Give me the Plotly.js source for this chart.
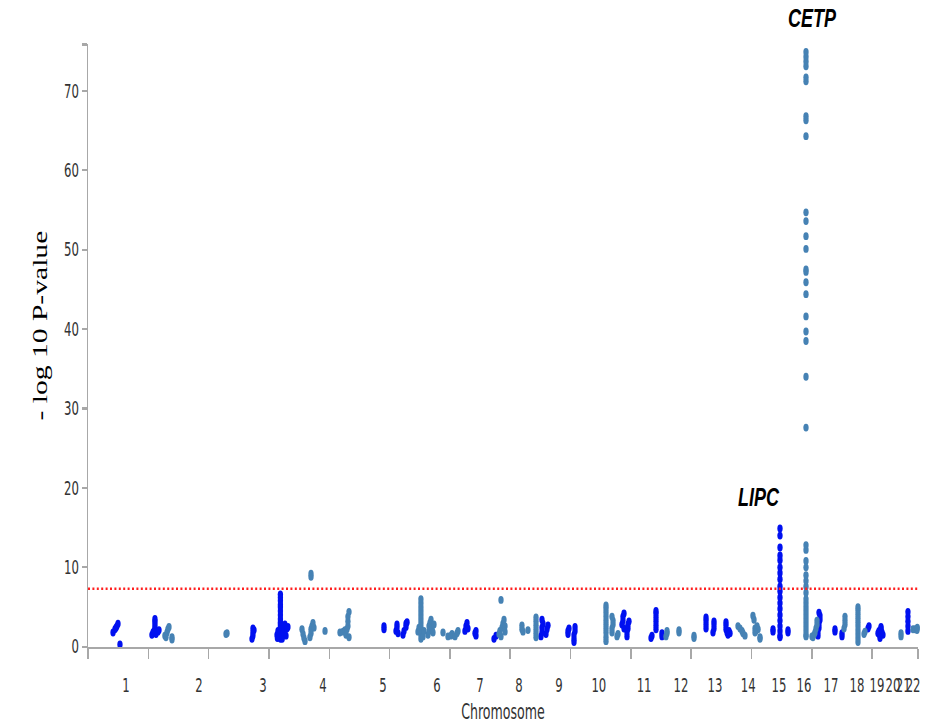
<!DOCTYPE html>
<html>
<head>
<meta charset="utf-8">
<script src="https://cdn.plot.ly/plotly-3.0.1.min.js"></script>
<style>
  html { margin: 0; padding: 0; background: #fff; overflow: hidden; }
  body { margin: 0; padding: 0; background: #fff; width: 925px; height: 725px; }
  /* the figure is laid out short and stretched vertically */
  #chart { width: 925px; height: 490px; transform: scaleY(1.48); transform-origin: 0 0; }
</style>
</head>
<body>
<div id="chart"></div>
<script>
// SNP association results: [cumulative genome position, -log10 P]
const bluePoints = [
  [83,1.8],[89.5,2.2],[93,2.4],[96,2.6],[99.5,2.9],[106,0.3],
  [212,1.5],[215.5,1.8],[219,2.0],[222,2.4],[222,2.8],[222,3.2],[222,3.5],[225.5,1.6],[232,1.9],[235.5,2.1],
  [543.8,1.0],[547,1.4],[547,1.8],[550.5,2.1],[547,2.3],
  [638,1.0],[638,1.3],[638,1.6],[638,1.9],[638,2.2],[638,2.5],[638,2.8],[638,3.1],[638,3.5],[638,4.0],
  [638,4.5],[638,5.0],[638,5.3],[638,5.8],[638,6.2],[638,6.6],
  [626.7,1.5],[630,2.0],[633,1.2],[646.6,1.7],[650,2.3],[653,2.8],[656.6,1.4],[663,2.5],[660,2.3],[628,1.1],[644,1.0],
  [981.5,2.2],[981.5,2.6],
  [1021.3,2.0],[1024.6,2.4],[1024.6,2.8],[1028,1.7],
  [1044.5,1.5],[1048,2.0],[1054.5,2.5],[1054.5,2.9],[1058,3.1],
  [1250,2.0],[1253.4,2.6],[1256.8,3.0],[1260,2.3],
  [1283.3,1.7],[1286.6,1.4],[1286.6,2.0],
  [1346.3,1.0],[1353,1.4],
  [1502,1.3],[1505.5,1.8],[1505.5,2.4],[1508.8,2.9],[1505.5,3.4],[1518.7,1.6],[1522,2.2],[1525.4,2.7],
  [1591.7,1.6],[1591.7,2.0],[1595,2.3],[1611.6,0.6],[1611.6,1.0],[1611.6,1.5],[1615,2.0],[1615,2.5],
  [1770.7,2.8],[1774,3.3],[1774,3.8],[1777.4,4.2],[1777.4,2.3],
  [1787.3,1.3],[1787.3,1.8],[1790.6,2.3],[1790.6,2.8],[1794,3.2],
  [1867,1.1],[1870.2,1.4],
  [1883.5,2.2],[1883.5,2.7],[1883.5,3.2],[1883.5,3.7],[1883.5,4.2],[1883.5,4.5],
  [1903.4,1.3],[1903.4,1.7],
  [2049.4,2.3],[2049.4,2.8],[2049.4,3.3],[2049.4,3.7],
  [2072.5,1.8],[2075.8,2.3],[2075.8,2.8],[2075.8,3.2],
  [2115.6,2.2],[2115.6,2.7],[2115.6,3.1],[2119,1.8],[2125.6,2.0],[2129,1.7],[2122.2,1.5],
  [2271.5,1.9],[2271.5,2.2],
  [2294.7,1.2],[2294.7,1.4],[2294.7,2.0],[2294.7,2.6],[2294.7,3.3],[2294.7,4.0],[2294.7,4.8],[2294.7,5.5],
  [2294.7,6.2],[2294.7,7.0],[2294.7,7.6],[2294.7,8.5],[2294.7,9.3],[2294.7,10.0],[2294.7,10.9],[2294.7,11.5],
  [2294.7,12.5],[2294.7,14.0],[2294.7,14.9],
  [2321.2,1.8],[2321.2,2.1],
  [2420.7,1.4],[2420.7,1.9],[2424,2.4],[2424,2.9],[2427.3,3.4],[2427.3,3.9],[2424,4.3],
  [2477,1.9],[2477,2.2],
  [2500.3,1.3],[2500.3,1.7],
  [2586.5,2.3],[2589.8,2.6],
  [2619.6,1.7],[2623,2.0],[2626.3,1.4],[2629.6,2.3],[2633,1.8],[2636.2,1.5],[2626.3,1.1],[2629.6,2.5],
  [2719,2.0],[2719,2.6],[2719,3.2],[2719,3.8],[2719,4.4]
];

const steelPoints = [
  [255,1.4],[262,1.8],[265,2.2],[268.6,2.5],[258.6,1.2],[278.5,0.9],[278.5,1.2],
  [457.6,1.6],[461,1.7],
  [709.6,2.2],[713,1.6],[716,1.1],[719.6,0.7],
  [736,1.2],[739.5,1.7],[739.5,2.2],[742.8,2.6],[746,3.0],[749.4,2.4],
  [739.5,8.8],[739.5,9.2],
  [786,2.0],
  [835.6,1.8],[845.6,1.9],[852,2.1],[855.5,1.5],[862,2.6],[862,3.2],[862,3.8],[865.5,4.4],[858.8,2.2],[865.5,1.2],
  [1094.3,1.9],[1097.6,2.4],[1101,2.0],
  [1104,1.0],[1104,1.5],[1104,2.5],[1104,3.0],[1104,3.5],[1104,4.0],[1104,4.5],[1104,5.0],[1104,5.5],[1104,6.0],
  [1111,1.3],[1114,2.0],
  [1127.4,1.5],[1130.8,2.0],[1130.8,2.6],[1134,3.0],[1137.4,3.4],[1140.7,2.3],[1144,1.8],[1147.3,2.8],
  [1177.2,1.8],
  [1193.8,1.3],[1203.7,1.4],[1207,1.6],
  [1217,1.3],[1223.6,1.7],[1227,2.0],
  [1363,1.6],[1366,2.0],[1372.8,2.4],[1376,2.9],[1379.5,3.4],[1382.8,2.6],[1369.5,1.3],[1382.8,1.9],[1369.5,5.9],
  [1439,2.2],[1439,2.7],[1442.5,1.9],[1459,2.1],
  [1485.6,1.2],[1485.6,1.7],[1485.6,2.2],[1485.6,2.7],[1485.6,3.2],[1485.6,3.7],
  [1717.7,0.7],[1717.7,1.2],[1717.7,1.8],[1717.7,2.3],[1717.7,2.8],[1717.7,3.3],[1717.7,3.8],[1717.7,4.3],
  [1717.7,4.8],[1717.7,5.2],
  [1737.6,1.8],[1737.6,2.3],[1741,2.8],[1741,3.3],[1737.6,3.8],
  [1754.2,1.3],[1757.5,1.6],
  [1916.6,1.3],[1920,1.7],[1920,2.0],
  [1959.8,1.8],[1959.8,2.1],
  [2009.5,1.1],[2009.5,1.4],
  [2155.4,2.6],[2162,2.3],[2168.7,2.0],[2172,1.7],[2178.6,1.4],
  [2205,3.9],[2208.5,3.4],[2211.8,2.3],[2215,2.0],[2218.6,2.6],[2222,2.2],[2211.8,1.8],
  [2228.4,1.2],[2228.4,1.0],
  [2380.9,1.3],[2380.9,1.5],[2380.9,2.0],[2380.9,2.5],[2380.9,3.0],[2380.9,3.5],[2380.9,4.0],[2380.9,4.5],
  [2380.9,5.0],[2380.9,5.5],[2380.9,6.0],[2380.9,6.8],[2380.9,7.6],[2380.9,8.3],[2380.9,9.0],[2380.9,10.0],
  [2380.9,10.8],[2380.9,12.2],[2380.9,12.8],
  [2380.9,27.6],[2380.9,34.0],[2380.9,38.5],[2380.9,39.7],[2380.9,41.6],[2380.9,44.4],[2380.9,45.9],
  [2380.9,47.2],[2380.9,47.5],[2380.9,50.1],[2380.9,51.7],[2380.9,53.6],[2380.9,54.7],[2380.9,64.3],
  [2380.9,66.3],[2380.9,66.8],[2380.9,71.2],[2380.9,71.7],[2380.9,73.1],[2380.9,73.7],[2380.9,74.3],
  [2380.9,74.9],[2380.9,76.0],
  [2400.8,1.3],[2407.4,1.5],[2410.7,1.8],[2414,2.3],[2417.4,2.8],[2417.4,3.3],[2404,1.2],
  [2507,2.3],[2510.2,2.8],[2510.2,3.3],[2510.2,3.8],
  [2553.3,0.6],[2553.3,1.1],[2553.3,1.6],[2553.3,2.1],[2553.3,2.6],[2553.3,3.1],[2553.3,3.6],[2553.3,4.1],
  [2553.3,4.6],[2553.3,5.0],
  [2576.5,1.9],[2573.2,1.6],
  [2696,1.3],[2696,1.7],
  [2735.7,2.2],[2742.3,2.2],[2749,2.1],[2750,2.4]
];

// chromosome labels and where they sit along the genome axis
const chromNames = ['1','2','3','4','5','6','7','8','9','10','11','12','13','14','15','16','17','18','19','20','21','22'];
const chromCenters = [126,368,580,779,978,1157,1300,1429,1562,1694,1844,1966,2079,2189,2291,2374,2464,2550,2616,2669,2703,2736];

// genome-wide significance threshold, -log10(5e-8)
const sigLine = 7.3;

// highlighted loci
const geneNames = ['CETP', 'LIPC'];
const geneX = [2401, 2225];
const geneY = [75.85, 18.9];
const geneShift = [18, 0];

const xMax = 2752.3;
const yMax = 75.85;

const axisGrey = '#a8a8a8';
const tickFont = { family: 'DejaVu Sans Condensed, Liberation Sans Narrow, DejaVu Sans, sans-serif', size: 13, color: '#333' };

const xTicks = [];
for (let v = 0; v < xMax; v += 200) xTicks.push(v);
xTicks.push(xMax);

const yTicks = [0, 10, 20, 30, 40, 50, 60, 70, yMax];
const yTickText = ['0', '10', '20', '30', '40', '50', '60', '70', ''];

// both traces share the same genome scale; the second one is drawn against
// the axis that carries the chromosome labels (identical range)
const traces = [
  {
    type: 'scatter', mode: 'markers', name: 'odd',
    x: bluePoints.map(p => p[0]), y: bluePoints.map(p => p[1]),
    marker: { size: 5.3, color: '#0010f0', line: { width: 0 } },
    cliponaxis: false, hoverinfo: 'x+y'
  },
  {
    type: 'scatter', mode: 'markers', name: 'even', xaxis: 'x2', yaxis: 'y',
    x: steelPoints.map(p => p[0]), y: steelPoints.map(p => p[1]),
    marker: { size: 5.3, color: '#4682b4', line: { width: 0 } },
    cliponaxis: false, hoverinfo: 'x+y'
  }
];

const annotations = geneNames.map((g, i) => ({
  x: geneX[i], y: geneY[i], xref: 'x', yref: 'y', yshift: geneShift[i],
  text: '<b><i>' + g + '</i></b>', showarrow: false,
  font: { family: 'Liberation Sans, Arial, sans-serif', size: 18, color: '#000' }
}));
annotations.push({
  xref: 'paper', yref: 'paper', x: -0.0735, y: 0.534,
  text: '- log 10 P-value', textangle: -90, showarrow: false,
  font: { family: 'Liberation Serif, Times New Roman, serif', size: 20, color: '#000' }
});

const layout = {
  width: 925, height: 490,
  margin: { l: 88, r: 7, t: 30, b: 53 },
  paper_bgcolor: '#fff', plot_bgcolor: '#fff',
  showlegend: false,
  xaxis: {
    range: [0, xMax], tickmode: 'array', tickvals: xTicks,
    ticks: 'outside', ticklen: 7, tickwidth: 1.5, tickcolor: axisGrey,
    showticklabels: false, showline: true, linecolor: axisGrey, linewidth: 1.5,
    showgrid: false, zeroline: false
  },
  xaxis2: {
    overlaying: 'x', anchor: 'y', side: 'bottom',
    range: [0, xMax], tickmode: 'array', tickvals: chromCenters, ticktext: chromNames,
    tickangle: 0,
    ticks: 'outside', ticklen: 14, tickcolor: 'rgba(0,0,0,0)',
    showline: false, showgrid: false, zeroline: false,
    tickfont: tickFont,
    title: { text: 'Chromosome', standoff: 6,
             font: { family: 'DejaVu Sans Condensed, Liberation Sans Narrow, DejaVu Sans, sans-serif', size: 14, color: '#333' } }
  },
  yaxis: {
    range: [0, yMax], tickmode: 'array', tickvals: yTicks, ticktext: yTickText,
    ticks: 'outside', ticklen: 5, tickwidth: 1.5, tickcolor: axisGrey,
    showline: true, linecolor: axisGrey, linewidth: 1.5,
    showgrid: false, zeroline: false, tickfont: tickFont
  },
  shapes: [{
    type: 'line', xref: 'paper', x0: 0, x1: 1, yref: 'y', y0: sigLine, y1: sigLine,
    line: { color: '#ff2020', width: 1.7, dash: '2px,2.4px' }
  }],
  annotations: annotations
};

Plotly.newPlot('chart', traces, layout, { displayModeBar: false, staticPlot: true });
</script>
</body>
</html>
